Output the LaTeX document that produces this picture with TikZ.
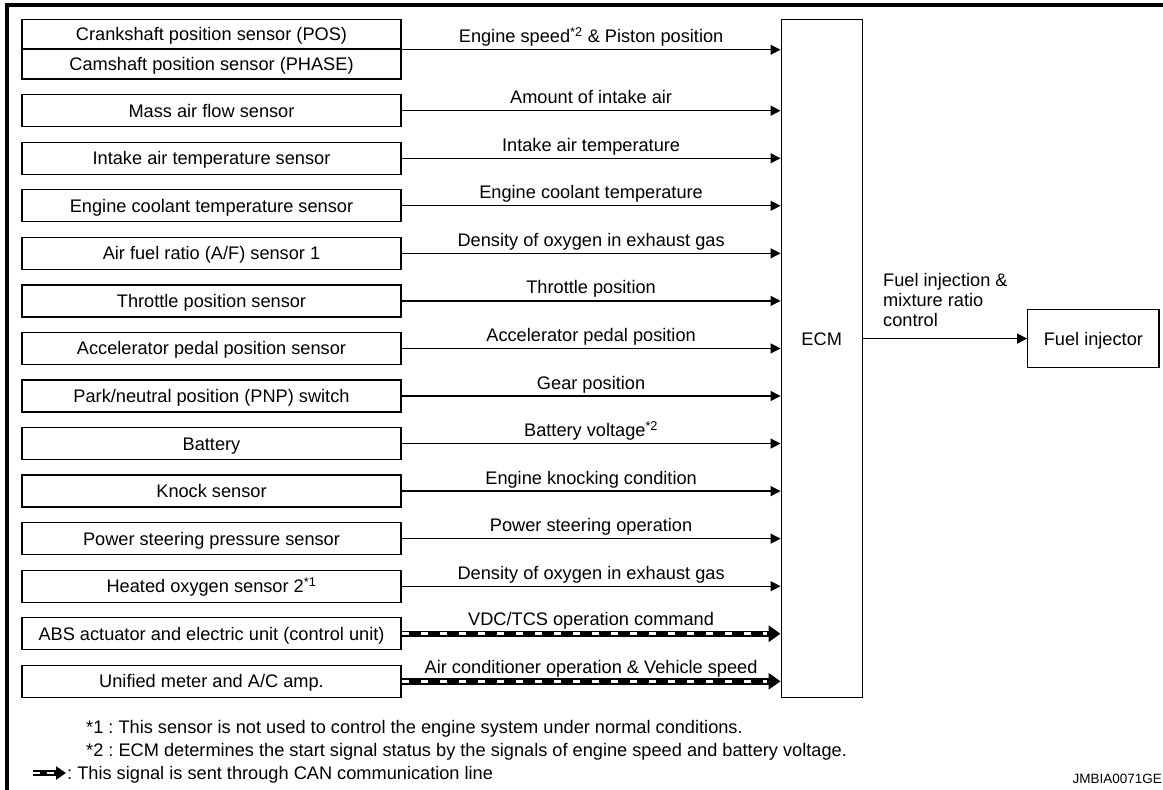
\documentclass[tikz,border=0pt]{standalone}
\usepackage{fontspec}
\setmainfont{Liberation Sans}
\usetikzlibrary{arrows.meta}
\frenchspacing
\begin{document}
\begin{tikzpicture}[x=1pt,y=-1pt,
  every node/.style={font=\fontsize{18.2}{19.6}\selectfont, inner sep=0pt},
  sbox/.style={draw, line width=1.3pt, minimum width=379pt, minimum height=32pt, text height=13pt, text depth=0pt},
  sig/.style={line width=1.3pt, -{Triangle[length=10pt,width=10pt]}},
  siglbl/.style={midway, anchor=base, yshift=7pt},
  canouter/.style={line width=6.5pt, -{Triangle[length=12pt,width=16pt]}},
  caninner/.style={white, line width=3pt, dash pattern=on 7pt off 12pt},
]
\useasboundingbox (0,0) rectangle (1163,790);
% frame
\draw[line width=4pt, line join=miter] (7,792) -- (7,4.5) -- (1166,4.5);

% ECM
\node[draw, line width=1.3pt, minimum width=81pt, minimum height=678pt] (ecm) at (821.7,358.3) {};
\node[text height=13pt, text depth=0pt] (ecmlbl) at (821.7,339) {ECM};

% Fuel injector
\node[draw, line width=1.3pt, minimum width=131.3pt, minimum height=58pt, text height=13pt, text depth=0pt] (fi) at (1093.4,338.6) {Fuel injector};
\draw[sig] (fi.west -| ecm.east) -- (fi.west);
\node[anchor=north west, align=left] (filbl) at (883,273.5) {Fuel injection \&\\mixture ratio\\control};

% double box
\node[sbox, minimum height=29.85pt] (pos) at (211.5,34.2) {Crankshaft position sensor (POS)};
\node[sbox, minimum height=29.85pt] (phase) at (211.5,64.1) {Camshaft position sensor (PHASE)};
\draw[sig] (pos.south east) -- node[siglbl] {Engine speed\textsuperscript{*2} \& Piston position} (pos.south east -| ecm.west);

% single sensors
\foreach \k/\name/\sigtxt in {
  0/{Mass air flow sensor}/{Amount of intake air},
  1/{Intake air temperature sensor}/{Intake air temperature},
  2/{Engine coolant temperature sensor}/{Engine coolant temperature},
  3/{Air fuel ratio (A/F) sensor 1}/{Density of oxygen in exhaust gas},
  4/{Throttle position sensor}/{Throttle position},
  5/{Accelerator pedal position sensor}/{Accelerator pedal position},
  6/{Park/neutral position (PNP) switch}/{Gear position},
  7/{Battery}/{Battery voltage\textsuperscript{*2}},
  8/{Knock sensor}/{Engine knocking condition},
  9/{Power steering pressure sensor}/{Power steering operation},
  10/{Heated oxygen sensor 2\textsuperscript{*1}}/{Density of oxygen in exhaust gas}}
{
  \node[sbox] (s\k) at (211.5,{110.7+47.55*\k}) {\name};
  \draw[sig] (s\k.east) -- node[siglbl] {\sigtxt} (s\k.east -| ecm.west);
}

% CAN signals
\node[sbox] (abs) at (211.5,633.75) {ABS actuator and electric unit (control unit)};
\draw[canouter] (abs.east) -- (abs.east -| ecm.west);
\draw[caninner] ([xshift=0.6pt]abs.east) -- ([xshift=-14pt]abs.east -| ecm.west);
\path (abs.east) -- node[midway, anchor=base, yshift=8pt] {VDC/TCS operation command} (abs.east -| ecm.west);

\node[sbox] (meter) at (211.5,681.3) {Unified meter and A/C amp.};
\draw[canouter] (meter.east) -- (meter.east -| ecm.west);
\draw[caninner] ([xshift=0.6pt]meter.east) -- ([xshift=-14pt]meter.east -| ecm.west);
\path (meter.east) -- node[midway, anchor=base, yshift=8pt] {Air conditioner operation \& Vehicle speed} (meter.east -| ecm.west);

% legend
\node[anchor=base west] (n1) at (86,733.5) {*1 : This sensor is not used to control the engine system under normal conditions.};
\node[anchor=base west] (n2) at (86,756.5) {*2 : ECM determines the start signal status by the signals of engine speed and battery voltage.};
\coordinate (ls) at (33,773);
\coordinate (le) at (66,773);
\draw[line width=6pt, -{Triangle[length=10pt,width=13pt]}] (ls) -- (le);
\draw[white, line width=2.6pt, dash pattern=on 7pt off 7pt] (ls) -- ([xshift=-11pt]le);
\node[anchor=base west] (n3) at (67,779.5) {: This signal is sent through CAN communication line};
\node[anchor=base east, font=\fontsize{13.5}{16}\selectfont] (imgid) at (1162,783) {JMBIA0071GE};
\end{tikzpicture}
\end{document}
